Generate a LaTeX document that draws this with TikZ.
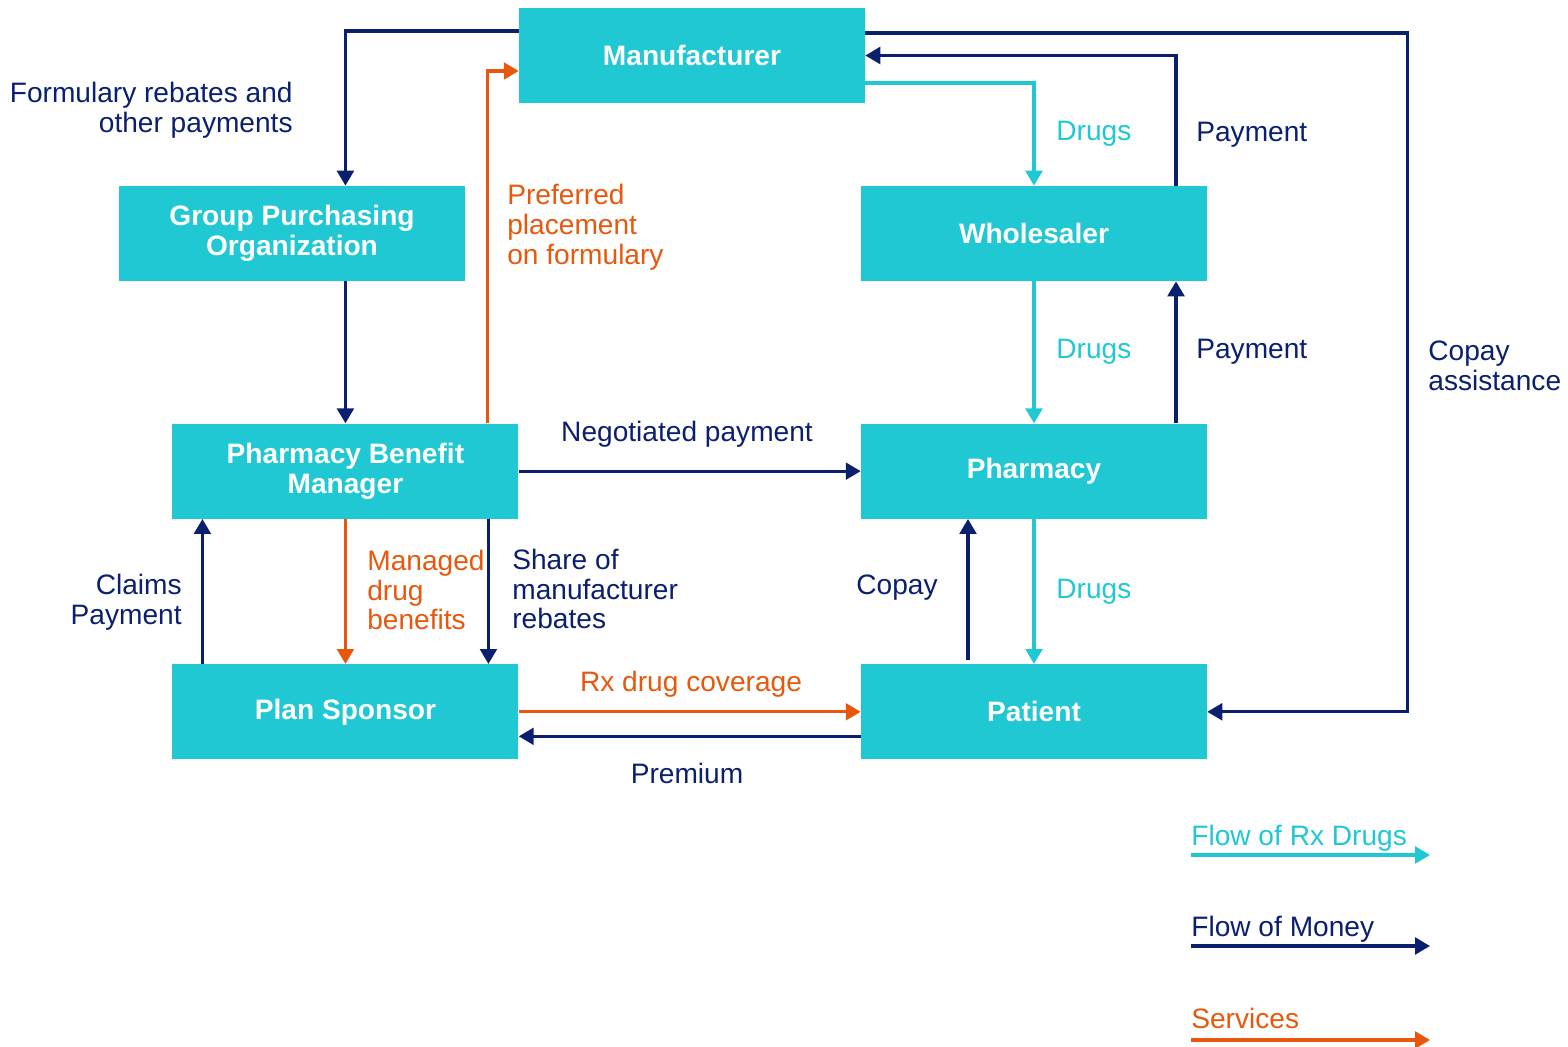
\documentclass[tikz,border=0pt]{standalone}
\usepackage{fontspec}
\setmainfont{Liberation Sans}
\usetikzlibrary{arrows.meta, positioning, calc}
\definecolor{drugteal}{HTML}{1FC8D3}
\definecolor{moneynavy}{HTML}{0B1F6F}
\definecolor{serviceorange}{HTML}{E8580C}

\begin{document}
\begin{tikzpicture}[x=0.02cm, y=-0.02cm, font=\fontsize{16pt}{17pt}\selectfont,
    box/.style={fill=drugteal, text=white, font=\fontsize{16pt}{17pt}\selectfont\bfseries, minimum width=6.92cm, minimum height=1.9cm, align=center, inner sep=0pt},
    flow/.style={line width=1.8pt, -{Triangle[length=8.5pt,width=9.5pt]}},
    drug/.style={flow, drugteal}, money/.style={flow, moneynavy}, service/.style={flow, serviceorange},
    lbl/.style={inner sep=0pt, align=left}]
    \useasboundingbox (0,0) rectangle (1568,1047);

    % Boxes
    \node[box] (Mfr) at (692,55.5) {Manufacturer};
    \node[box] (GPO) at (292,233.5) {Group Purchasing\\Organization};
    \node[box] (Whole) at (1034,233.5) {Wholesaler};
    \node[box, below=2.84cm of Whole] (Pharm) {Pharmacy};
    \node[box, below=2.9cm of Pharm] (Patient) {Patient};
    \node[box, left=6.84cm of Pharm] (PBM) {Pharmacy Benefit\\Manager};
    \node[box, left=6.84cm of Patient] (Plan) {Plan Sponsor};

    % Manufacturer links
    \draw[money] ($(Mfr.west)+(0,-24.5)$) -| (GPO.north -| PBM.north);
    \draw[service] ($(PBM.north)+(142,0)$) |- ($(Mfr.west)+(0,15.5)$);
    \draw[drug] ($(Mfr.east)+(0,27.5)$) -| (Whole.north);
    \draw[money] ($(Whole.north)+(142,0)$) |- (Mfr.east);
    \draw[money] ($(Mfr.east)+(0,-22.5)$) -| ($(Patient.east)+(200,0)$) -- (Patient.east);

    % Middle links
    \draw[money] (GPO.south -| PBM.north) -- (PBM.north);
    \draw[drug] (Whole.south) -- (Pharm.north);
    \draw[money] ($(Pharm.north)+(142,0)$) -- ($(Whole.south)+(142,0)$);
    \draw[money] (PBM.east) -- (PBM.east -| Pharm.west);

    % Lower links
    \draw[service] (PBM.south) -- (Plan.north);
    \draw[money] ($(PBM.south)+(143,0)$) -- ($(Plan.north)+(143,0)$);
    \draw[money] ($(Plan.north)+(-143,0)$) -- ($(PBM.south)+(-143,0)$);
    \draw[service] (Plan.east) -- (Patient.west);
    \draw[money] ($(Patient.west)+(0,24.5)$) -- ($(Plan.east)+(0,24.5)$);
    \draw[money] ($(Patient.north)+(-66,-4)$) -- ($(Pharm.south)+(-66,0)$);
    \draw[drug] (Pharm.south) -- (Patient.north);

    % Labels
    \node[lbl, anchor=east, align=right, moneynavy] (lFormulary) at (293,110) {Formulary rebates and\\other payments};
    \node[lbl, anchor=west, serviceorange] (lPreferred) at (507,227) {Preferred\\placement\\on formulary};
    \node[lbl, anchor=west, drugteal] (lDrugsTop) at (1056,134) {Drugs};
    \node[lbl, anchor=west, moneynavy] (lPayTop) at (1196,135) {Payment};
    \node[lbl, anchor=west, moneynavy] (lCopayAssist) at (1428,366) {Copay\\assistance};
    \node[lbl, anchor=west, drugteal] (lDrugsMid) at (1056,352) {Drugs};
    \node[lbl, anchor=west, moneynavy] (lPayMid) at (1196,352) {Payment};
    \node[lbl, moneynavy] (lNegotiated) at (687,434) {Negotiated payment};
    \node[lbl, anchor=west, serviceorange] (lManaged) at (367,590) {Managed\\drug\\benefits};
    \node[lbl, anchor=west, moneynavy] (lShare) at (512,589) {Share of\\manufacturer\\rebates};
    \node[lbl, anchor=east, align=right, moneynavy] (lClaims) at (182,602) {Claims\\Payment};
    \node[lbl, serviceorange] (lCoverage) at (691,684) {Rx drug coverage};
    \node[lbl, moneynavy] (lPremium) at (687,773) {Premium};
    \node[lbl, moneynavy] (lCopay) at (897,588) {Copay};
    \node[lbl, anchor=west, drugteal] (lDrugsLow) at (1056,592) {Drugs};

    % Legend
    \coordinate (lgDrugA) at (1191,855);
    \coordinate (lgDrugB) at (1430,855);
    \coordinate (lgMoneyA) at (1191,946);
    \coordinate (lgMoneyB) at (1430,946);
    \coordinate (lgServA) at (1191,1040);
    \coordinate (lgServB) at (1430,1040);
    \draw[drug] (lgDrugA) -- (lgDrugB);
    \draw[money] (lgMoneyA) -- (lgMoneyB);
    \draw[service] (lgServA) -- (lgServB);
    \node[lbl, anchor=base west, drugteal] (lgDrugTxt) at (1191,845) {Flow of Rx Drugs};
    \node[lbl, anchor=base west, moneynavy] (lgMoneyTxt) at (1191,936) {Flow of Money};
    \node[lbl, anchor=base west, serviceorange] (lgServTxt) at (1191,1028) {Services};
\end{tikzpicture}
\end{document}
